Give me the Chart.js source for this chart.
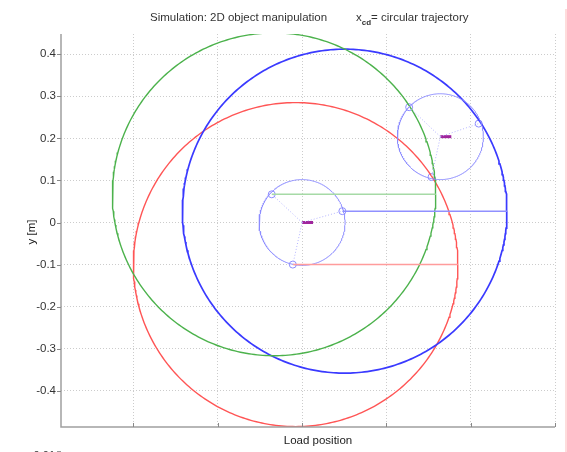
<!DOCTYPE html>
<html>
<head>
<meta charset="utf-8">
<script src="https://cdn.jsdelivr.net/npm/chart.js@4/dist/chart.umd.min.js"></script>
<style>
  html, body { margin: 0; padding: 0; background: #ffffff; }
  #c { display: block; }
</style>
</head>
<body>
<canvas id="c" width="567" height="452"></canvas>
<script>
// ---------- data ----------
const titleMain = 'Simulation: 2D object manipulation';
const titleVar = 'x';
const titleSub = 'cd';
const titleRest = '= circular trajectory';
const yAxisTitle = 'y [m]';
const xAxisTitle = 'Load position';

const yTicks = [-0.4, -0.3, -0.2, -0.1, 0, 0.1, 0.2, 0.3, 0.4];
const yTickLabels = ['-0.4', '-0.3', '-0.2', '-0.1', '0', '0.1', '0.2', '0.3', '0.4'];
const xTicks = [-0.4, -0.2, 0, 0.2, 0.4, 0.6];

// big trajectory circles (green, blue, red)
const trajNames = ['green', 'blue', 'red'];
const trajCenterX = [-0.0665, 0.101, -0.0154];
const trajCenterY = [0.067, 0.027, -0.100];
const trajRadius = [0.3836, 0.385, 0.385];

// object (small circle) at start and current pose
const objCenterX = [0, 0.328];
const objCenterY = [0, 0.204];
const objRadius = [0.102, 0.102];

// contact points on the object, start pose (green, blue, red)
const startContactX = [-0.072, 0.0955, -0.022];
const startContactY = [0.067, 0.027, -0.100];
// contact points on the object, current pose (green, blue, red)
const curContactX = [0.254, 0.419, 0.307];
const curContactY = [0.274, 0.235, 0.108];

// orientation marker length
const markerLen = 0.026;

// ---------- styles ----------
const trajColors = ['#4cb24c', '#3a3aff', '#ff5555'];
const trajWidths = [1.4, 1.7, 1.4];
const leadColors = ['#a6daa6', '#9090ff', '#ff9c9c'];
const objColor = '#8c8cff';
const spokeColor = '#b4b4ff';
const markerColor = '#a0259c';
const textFont = '"Liberation Sans", Arial, sans-serif';

function circlePoints(cx, cy, r) {
  const pts = [];
  const n = 360;
  for (let i = 0; i <= n; i++) {
    const a = (i / n) * Math.PI * 2;
    pts.push({ x: cx + r * Math.cos(a), y: cy + r * Math.sin(a) });
  }
  return pts;
}

const datasets = [];
// spokes (dotted) from object centers to contact points
for (let k = 0; k < 3; k++) {
  datasets.push({
    data: [{ x: objCenterX[0], y: objCenterY[0] }, { x: startContactX[k], y: startContactY[k] }],
    borderColor: spokeColor, borderWidth: 1, borderDash: [1, 2], showLine: true, pointRadius: 0
  });
  datasets.push({
    data: [{ x: objCenterX[1], y: objCenterY[1] }, { x: curContactX[k], y: curContactY[k] }],
    borderColor: spokeColor, borderWidth: 1, borderDash: [1, 2], showLine: true, pointRadius: 0
  });
}
// lead-in lines from start contacts to trajectory start
for (let k = 0; k < 3; k++) {
  datasets.push({
    data: [{ x: startContactX[k], y: startContactY[k] },
           { x: trajCenterX[k] + trajRadius[k], y: trajCenterY[k] }],
    borderColor: leadColors[k], borderWidth: 1.5, showLine: true, pointRadius: 0
  });
}
// object circles
for (let j = 0; j < objCenterX.length; j++) {
  datasets.push({
    data: circlePoints(objCenterX[j], objCenterY[j], objRadius[j]),
    borderColor: objColor, borderWidth: 1, showLine: true, pointRadius: 0
  });
}
// trajectories
for (let k = 0; k < 3; k++) {
  datasets.push({
    label: trajNames[k],
    data: circlePoints(trajCenterX[k], trajCenterY[k], trajRadius[k]),
    borderColor: trajColors[k], borderWidth: trajWidths[k], showLine: true, pointRadius: 0
  });
}
// contact markers
datasets.push({
  data: startContactX.map((x, i) => ({ x, y: startContactY[i] }))
        .concat(curContactX.map((x, i) => ({ x, y: curContactY[i] }))),
  showLine: false, pointRadius: 3.5, pointBorderColor: objColor, pointBackgroundColor: 'rgba(0,0,0,0)',
  pointBorderWidth: 1
});
// orientation markers
for (let j = 0; j < objCenterX.length; j++) {
  datasets.push({
    data: [{ x: objCenterX[j], y: objCenterY[j] }, { x: objCenterX[j] + markerLen, y: objCenterY[j] }],
    borderColor: markerColor, borderWidth: 3, showLine: true, pointRadius: 0, borderCapStyle: 'butt'
  });
}

const decor = {
  id: 'decor',
  afterDraw(chart) {
    const ctx = chart.ctx;
    const ca = chart.chartArea;
    const xs = chart.scales.x, ys = chart.scales.y;
    ctx.save();
    // axis lines
    ctx.strokeStyle = '#a0a0a0';
    ctx.lineWidth = 1.5;
    ctx.beginPath();
    ctx.moveTo(ca.left, ca.top);
    ctx.lineTo(ca.left, ca.bottom);
    ctx.lineTo(ca.right, ca.bottom);
    ctx.stroke();
    // ticks
    ctx.strokeStyle = '#888888';
    ctx.lineWidth = 1;
    ctx.beginPath();
    xTicks.forEach(v => {
      const px = Math.round(xs.getPixelForValue(v)) + 0.5;
      ctx.moveTo(px, ca.bottom);
      ctx.lineTo(px, ca.bottom - 4);
    });
    yTicks.forEach(v => {
      const py = Math.round(ys.getPixelForValue(v)) + 0.5;
      ctx.moveTo(ca.left - 4, py);
      ctx.lineTo(ca.left, py);
    });
    ctx.stroke();

    // title with subscript
    ctx.fillStyle = '#333333';
    ctx.textBaseline = 'alphabetic';
    ctx.textAlign = 'left';
    ctx.font = '11.5px ' + textFont;
    ctx.fillText(titleMain, 150, 21);
    ctx.fillText(titleVar, 356, 21);
    const wx = ctx.measureText(titleVar).width;
    ctx.font = 'bold 8px ' + textFont;
    ctx.fillText(titleSub, 356 + wx, 25);
    const ws = ctx.measureText(titleSub).width;
    ctx.font = '11.5px ' + textFont;
    ctx.fillText(titleRest, 356 + wx + ws, 21);

    // y title
    ctx.save();
    ctx.translate(35, 232);
    ctx.rotate(-Math.PI / 2);
    ctx.textAlign = 'center';
    ctx.fillStyle = '#222222';
    ctx.font = '11.5px ' + textFont;
    ctx.fillText(yAxisTitle, 0, 0);
    ctx.restore();

    // x title
    ctx.textAlign = 'center';
    ctx.fillStyle = '#222222';
    ctx.font = '11.5px ' + textFont;
    ctx.fillText(xAxisTitle, (ca.left + ca.right) / 2 + 10, 444);

    // partial label of the panel below
    ctx.textAlign = 'right';
    ctx.fillStyle = '#333333';
    ctx.font = '11px ' + textFont;
    ctx.fillText('0.01', 55, 459);
    ctx.strokeStyle = '#999999';
    ctx.beginPath();
    ctx.moveTo(57, 451.5); ctx.lineTo(61, 451.5);
    ctx.stroke();

    // edge of neighbouring figure
    ctx.strokeStyle = '#ffd0d0';
    ctx.lineWidth = 1.5;
    ctx.beginPath();
    ctx.moveTo(566, 9);
    ctx.lineTo(566, 452);
    ctx.stroke();
    ctx.restore();
  }
};

new Chart(document.getElementById('c'), {
  type: 'scatter',
  data: { datasets },
  options: {
    responsive: false,
    animation: false,
    devicePixelRatio: 1,
    layout: { padding: { top: 34, right: 12, left: 0, bottom: 0 } },
    plugins: { legend: { display: false }, tooltip: { enabled: false }, title: { display: false } },
    elements: { line: { tension: 0, fill: false } },
    scales: {
      x: {
        type: 'linear', min: -0.572, max: 0.6,
        afterBuildTicks: s => { s.ticks = xTicks.map(v => ({ value: v })); },
        afterFit: s => { s.height = 25; },
        ticks: { display: false },
        grid: { color: 'rgba(0,0,0,0.2)', lineWidth: 1, drawTicks: false },
        border: { display: false, dash: [1, 2] }
      },
      y: {
        type: 'linear', min: -0.486, max: 0.448,
        afterBuildTicks: s => { s.ticks = yTicks.map(v => ({ value: v })); },
        afterFit: s => { s.width = 61; },
        ticks: {
          color: '#333333', padding: 5,
          font: { family: textFont, size: 11.5 },
          callback: (v) => { const i = yTicks.findIndex(t => Math.abs(t - v) < 1e-9); return i >= 0 ? yTickLabels[i] : ''; }
        },
        grid: { color: 'rgba(0,0,0,0.2)', lineWidth: 1, drawTicks: false },
        border: { display: false, dash: [1, 2] }
      }
    }
  },
  plugins: [decor]
});
</script>
</body>
</html>
